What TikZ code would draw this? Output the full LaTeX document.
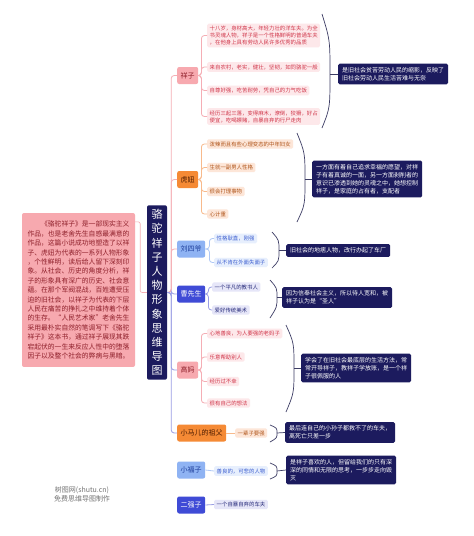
\documentclass[tikz,border=0pt]{standalone}
\usepackage{fontspec}
\setmainfont{Noto Sans CJK SC}
\usetikzlibrary{calc}
\definecolor{navy}{HTML}{1C1B5E}
\definecolor{pkfill}{HTML}{F7A9AF}
\definecolor{pktext}{HTML}{8E1F2A}
\definecolor{pkleaf}{HTML}{FDE8EA}
\definecolor{pkleaftext}{HTML}{D0364A}
\definecolor{pkline}{HTML}{F5AEB5}
\definecolor{orfill}{HTML}{F58A35}
\definecolor{ortext}{HTML}{4A1A00}
\definecolor{orleaf}{HTML}{FDE6D8}
\definecolor{orleaftext}{HTML}{B0561C}
\definecolor{orline}{HTML}{F8BA8C}
\definecolor{lbfill}{HTML}{8FB3F3}
\definecolor{lbtext}{HTML}{1D3D9A}
\definecolor{lbleaf}{HTML}{E7EFFD}
\definecolor{lbleaftext}{HTML}{3D5FD0}
\definecolor{lbline}{HTML}{AFC8F6}
\definecolor{blfill}{HTML}{3F4BD6}
\definecolor{blleaf}{HTML}{E6E6F8}
\definecolor{blleaftext}{HTML}{262A7A}
\definecolor{blline}{HTML}{9A9EE4}
\definecolor{bracecol}{HTML}{3C3C64}
\tikzset{
  topicbox/.style={rounded corners=2pt, inner xsep=3.5pt, inner ysep=0pt, minimum height=17pt, anchor=west, font=\fontsize{7}{8}\selectfont},
  leafbox/.style={rounded corners=1.5pt, inner xsep=2.5pt, inner ysep=2.2pt, anchor=west, align=left, font=\fontsize{5.4}{7}\selectfont},
  sumbox/.style={rounded corners=1.5pt, fill=navy, text=white, inner xsep=4pt, inner ysep=3.5pt, anchor=west, align=left, font=\fontsize{6}{8}\selectfont},
  pktopic/.style={topicbox, fill=pkfill, text=pktext},
  ortopic/.style={topicbox, fill=orfill, text=ortext},
  lbtopic/.style={topicbox, fill=lbfill, text=lbtext},
  bltopic/.style={topicbox, fill=blfill, text=white},
  pkleafbox/.style={leafbox, fill=pkleaf, text=pkleaftext},
  orleafbox/.style={leafbox, fill=orleaf, text=orleaftext},
  lbleafbox/.style={leafbox, fill=lbleaf, text=lbleaftext},
  blleafbox/.style={leafbox, fill=blleaf, text=blleaftext},
  brace/.style={draw=bracecol, line width=0.7pt},
  link/.style={line width=0.8pt, rounded corners=3pt},
}
\begin{document}
\begin{tikzpicture}[x=1pt,y=-1pt]
\fill[white] (0,0) rectangle (474,536);
\useasboundingbox (0,0) rectangle (474,536);

% root and intro
\node[fill=navy, text=white, rounded corners=2pt, inner xsep=4.5pt, inner ysep=4pt, align=center,
  font=\fontsize{11}{14.2}\selectfont] (root) at (157,292.5)
  {骆\\驼\\祥\\子\\人\\物\\形\\象\\思\\维\\导\\图};
\node[fill=pkfill, text=pktext, rounded corners=2pt, inner xsep=5.5pt, inner ysep=8pt, align=left,
  font=\fontsize{6.8}{9.4}\selectfont] (intro) at (78.5,290)
  {\hspace*{2em}《骆驼祥子》是一部现实主义\\作品，也是老舍先生自感最满意的\\作品，这篇小说成功地塑造了以祥\\子、虎妞为代表的一系列人物形象\\，个性鲜明，读后给人留下深刻印\\象。从社会、历史的角度分析，祥\\子的形象具有深广的历史、社会意\\蕴。在那个军阀混战，百姓遭受压\\迫的旧社会，以祥子为代表的下层\\人民在痛苦的挣扎之中维持着个体\\的生存。“人民艺术家”老舍先生\\采用最朴实自然的笔调写下《骆驼\\祥子》这本书，通过祥子展现其跌\\宕起伏的一生来反应人性中的堕落\\因子以及整个社会的弊病与黑暗。};
\draw[pkline, line width=0.6pt, rounded corners=2pt] ($(intro.north east)+(0,9)$) -- ++(5,0) |- (root.west);

% topics
\node[pktopic] (xz) at (177,75.5) {祥子};
\node[ortopic] (hn) at (177,179.5) {虎妞};
\node[lbtopic] (ls) at (177,249) {刘四爷};
\node[bltopic] (cx) at (177,294) {曹先生};
\node[pktopic] (gm) at (177,370) {高妈};
\node[ortopic] (xm) at (177,433) {小马儿的祖父};
\node[lbtopic] (xf) at (177,470) {小福子};
\node[bltopic] (eq) at (177,505) {二强子};

\draw[link, pkline] (root.east) -- ++(4,0) |- (xz.west);
\draw[link, pkline] (root.east) -- ++(4,0) |- (hn.west);
\draw[link, pkline] (root.east) -- ++(4,0) |- (ls.west);
\draw[link, blline] (root.east) -- ++(4,0) |- (xm.west);
\draw[link, blline] (root.east) -- ++(4,0) |- (gm.west);
\draw[link, blline] (root.east) -- ++(4,0) |- (cx.west);

% 祥子
\node[pkleafbox] (xz1) at (207,35.5) {十八岁，身材高大，年轻力壮的洋车夫。为全\\书灵魂人物，祥子是一个性格鲜明的普通车夫\\，在他身上具有劳动人民许多优秀的品质};
\node[pkleafbox] (xz2) at (207,67) {来自农村，老实，健壮，坚韧，如同骆驼一般};
\node[pkleafbox] (xz3) at (207,90.5) {自尊好强，吃苦耐劳，凭自己的力气吃饭};
\node[pkleafbox] (xz4) at (207,116.5) {经历三起三落，变得麻木，潦倒，狡猾，好占\\便宜，吃喝嫖赌，自暴自弃的行尸走肉};
\foreach \l in {1,...,4} \draw[link, pkline] (xz.east) -- ++(3,0) |- (xz\l.west);
\node[sumbox] (xzs) at (338,74) {是旧社会贫苦劳动人民的缩影，反映了\\旧社会劳动人民生活苦难与无奈};
\draw[brace] (322,14) .. controls (330,40) .. (330,74) .. controls (330,108) .. (322,128);
\draw[brace] (330,74) -- (xzs.west);

% 虎妞
\node[orleafbox] (hn1) at (207,144) {泼辣而且有些心理变态的中年妇女};
\node[orleafbox] (hn2) at (207,167.5) {生就一副男人性格};
\node[orleafbox] (hn3) at (207,191.5) {很会打理事物};
\node[orleafbox] (hn4) at (207,214) {心计重};
\foreach \l in {1,...,4} \draw[link, orline] (hn.east) -- ++(3,0) |- (hn\l.west);
\node[sumbox] (hns) at (312,179) {一方面有着自己追求幸福的愿望，对祥\\子有着真诚的一面，另一方面剥削者的\\意识已渗透到她的灵魂之中，她想控制\\祥子，是家庭的占有者，支配者};
\draw[brace] (297,133) .. controls (305,153) .. (305,179) .. controls (305,205) .. (297,222);
\draw[brace] (305,179) -- (hns.west);

% 刘四爷
\node[lbleafbox] (ls1) at (214,238.5) {性格耿直，刚强};
\node[lbleafbox] (ls2) at (214,262.5) {从不肯在外面失面子};
\foreach \l in {1,2} \draw[link, lbline] (ls.east) -- ++(4,0) |- (ls\l.west);
\node[sumbox] (lss) at (286,250.5) {旧社会的地痞人物，改行办起了车厂};
\draw[brace] (272,232) .. controls (279,240) .. (279,250.5) .. controls (279,261) .. (272,268);
\draw[brace] (279,250.5) -- (lss.west);

% 曹先生
\node[blleafbox] (cx1) at (212,287) {一个平凡的教书人};
\node[blleafbox] (cx2) at (212,310) {爱好传统美术};
\foreach \l in {1,2} \draw[link, blline] (cx.east) -- ++(3,0) |- (cx\l.west);
\node[sumbox] (cxs) at (282,297.5) {因为信奉社会主义，所以待人宽和，被\\祥子认为是“圣人”};
\draw[brace] (270,280) .. controls (277,288) .. (277,297.5) .. controls (277,307) .. (270,318);
\draw[brace] (277,297.5) -- (cxs.west);

% 高妈
\node[pkleafbox] (gm1) at (207,333.5) {心地善良，为人要强的老妈子};
\node[pkleafbox] (gm2) at (207,357) {乐意帮助别人};
\node[pkleafbox] (gm3) at (207,381.5) {经历过不幸};
\node[pkleafbox] (gm4) at (207,403) {很有自己的想法};
\foreach \l in {1,...,4} \draw[link, pkline] (gm.east) -- ++(3,0) |- (gm\l.west);
\node[sumbox] (gms) at (301,368) {学会了在旧社会最底层的生活方法，常\\常开导祥子，教祥子学放账，是一个祥\\子很佩服的人};
\draw[brace] (286,325) .. controls (294,343) .. (294,368) .. controls (294,393) .. (286,412);
\draw[brace] (294,368) -- (gms.west);

% 小马儿的祖父
\node[orleafbox] (xm1) at (235,433) {一辈子要强};
\draw[link, orline] (xm.east) -- (xm1.west);
\node[sumbox] (xms) at (285,432.5) {最后连自己的小孙子都救不了的车夫，\\离死亡只差一步};
\draw[brace] (270,425) .. controls (277,428) .. (277,433) .. controls (277,438) .. (270,442);
\draw[brace] (277,433) -- (xms.west);

% 小福子
\node[lbleafbox] (xf1) at (214,471) {善良的，可悲的人物};
\draw[link, lbline] (xf.east) -- (xf1.west);
\node[sumbox] (xfs) at (286,470) {是祥子喜欢的人，但留给我们的只有深\\深的同情和无限的思考，一步步走向毁\\灭};
\draw[brace] (270,463) .. controls (277,466) .. (277,471) .. controls (277,476) .. (270,479);
\draw[brace] (277,471) -- (xfs.west);

% 二强子
\node[blleafbox] (eq1) at (214,504.5) {一个自暴自弃的车夫};
\draw[link, blline] (eq.east) -- (eq1.west);

% watermark
\node[text=black!55, font=\fontsize{7}{9}\selectfont, align=center] (wm) at (82,494.5) {树图网(shutu.cn)\\免费思维导图制作};
\end{tikzpicture}
\end{document}
